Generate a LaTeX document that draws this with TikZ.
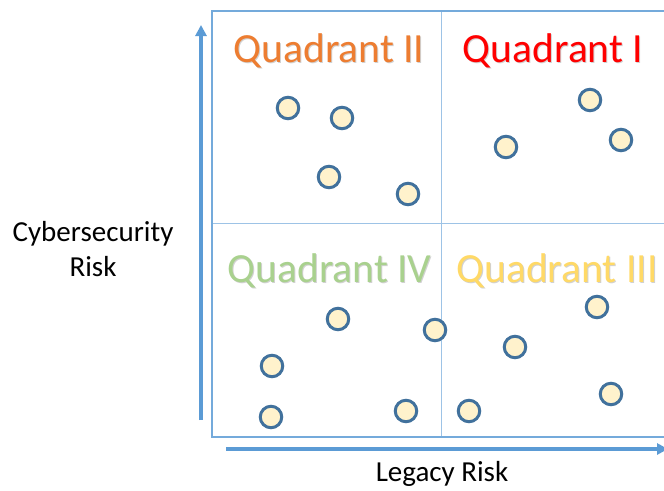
\documentclass[tikz,border=0pt]{standalone}
\usepackage{fontspec}
\setmainfont{Carlito}
\usetikzlibrary{arrows.meta}
\definecolor{axisblue}{HTML}{5B9BD5}
\definecolor{gridblue}{HTML}{9DC3E6}
\definecolor{dotedge}{HTML}{41719C}
\definecolor{dotfill}{HTML}{FFF2CC}
\definecolor{qone}{HTML}{FF0000}
\definecolor{qtwo}{HTML}{ED7D31}
\definecolor{qthree}{HTML}{FFD966}
\definecolor{qfour}{HTML}{A9D18E}
\tikzset{
  dot/.style={circle,draw=dotedge,fill=dotfill,line width=3pt,minimum size=21.5pt,inner sep=0pt},
  qlabel/.style={anchor=base,inner sep=0pt,font=\fontsize{41.5}{50}\selectfont},
  qshadow/.style={qlabel,text=black,opacity=0.18},
  axlabel/.style={inner sep=0pt,font=\fontsize{29}{35}\selectfont,align=center},
  axis/.style={draw=axisblue,line width=4pt,-{Triangle[length=11pt,width=11pt]}}
}
\begin{document}
\begin{tikzpicture}[x=1pt,y=-1pt]
\useasboundingbox (0,0) rectangle (664,490);
% grid
\draw[gridblue,line width=1.5pt] (441.7,11) -- (441.7,437);
\draw[gridblue,line width=1.5pt] (212,223.5) -- (670,223.5);
\draw[axisblue!85,line width=2pt] (670,11) -- (212,11) -- (212,437) -- (670,437);
% axes
\coordinate (ys) at (201,420);
\coordinate (ye) at (201,25);
\coordinate (xs) at (226,449);
\coordinate (xe) at (668,449);
\draw[axis] (ys) -- (ye);
\draw[axis] (xs) -- (xe);
% label shadows
\node[qshadow] (s2) at (330,63.2) {Quadrant II};
\node[qshadow] (s1) at (554,63.2) {Quadrant I};
\node[qshadow] (s4) at (330.5,283.7) {Quadrant IV};
\node[qshadow] (s3) at (558,283.7) {Quadrant III};
% labels
\node[qlabel,text=qtwo] (q2) at (329,62) {Quadrant II};
\node[qlabel,text=qone] (q1) at (553,62) {Quadrant I};
\node[qlabel,text=qfour] (q4) at (329.5,282.5) {Quadrant IV};
\node[qlabel,text=qthree] (q3) at (557,282.5) {Quadrant III};
\node[axlabel,anchor=base] (yl) at (93,276) {Cybersecurity\\Risk};
\node[axlabel,anchor=base] (xl) at (442,481.5) {Legacy Risk};
% dots
\node[dot] (d1) at (288,108) {};
\node[dot] (d2) at (342,118) {};
\node[dot] (d3) at (329,177) {};
\node[dot] (d4) at (408,194) {};
\node[dot] (d5) at (590,100) {};
\node[dot] (d6) at (506,147) {};
\node[dot] (d7) at (621,140) {};
\node[dot] (d8) at (338,319) {};
\node[dot] (d9) at (435,330) {};
\node[dot] (d10) at (272,366) {};
\node[dot] (d11) at (271,417) {};
\node[dot] (d12) at (406,411) {};
\node[dot] (d13) at (597,307) {};
\node[dot] (d14) at (515,347) {};
\node[dot] (d15) at (611,394) {};
\node[dot] (d16) at (469,411) {};
\end{tikzpicture}
\end{document}
